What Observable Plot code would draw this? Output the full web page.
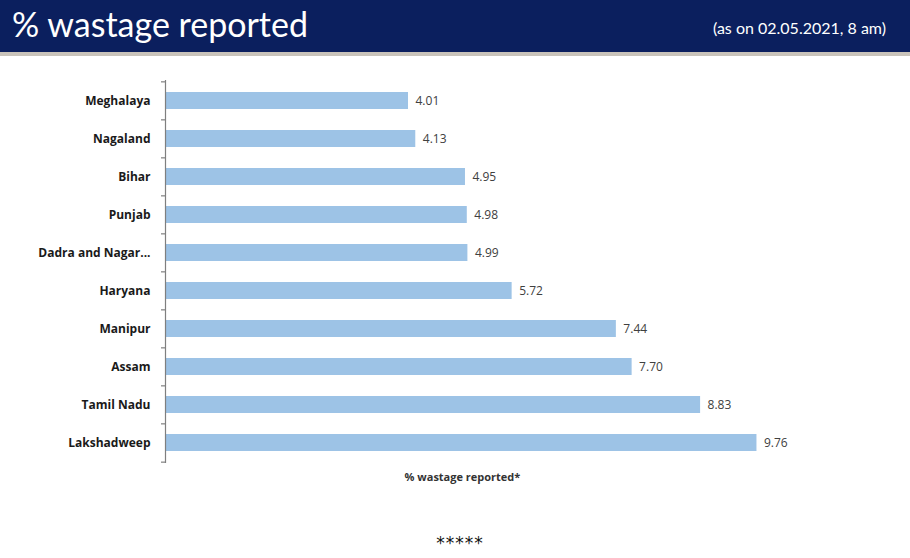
<!DOCTYPE html>
<html>
<head>
<meta charset="utf-8">
<script src="https://cdn.jsdelivr.net/npm/d3@7"></script>
<script src="https://cdn.jsdelivr.net/npm/@observablehq/plot@0.6"></script>
<style>
  body { margin: 0; background: #fff; width: 910px; font-family: Lato, "Open Sans", sans-serif; }
  #header { height: 52px; background: #0b1f5e; border-bottom: 4px solid #c9c3ba; position: relative; }
  #title { position: absolute; left: 12px; top: 3px; color: #fff; font-size: 34px; font-family: Lato, sans-serif; }
  #subtitle { position: absolute; right: 24px; top: 18px; color: #fff; font-size: 16px; font-family: Lato, sans-serif; }
  #caption { text-align: center; font-family: "DejaVu Sans", sans-serif; font-size: 17px; margin-top: 33px; padding-left: 10px; letter-spacing: 1px; color: #111; }
</style>
</head>
<body>
<div id="header"><div id="title">% wastage reported</div><div id="subtitle">(as on 02.05.2021, 8 am)</div></div>
<div id="chart"></div>
<div id="caption">*****</div>
<script>
const states = ["Meghalaya", "Nagaland", "Bihar", "Punjab", "Dadra and Nagar...", "Haryana", "Manipur", "Assam", "Tamil Nadu", "Lakshadweep"];
const wastage = [4.01, 4.13, 4.95, 4.98, 4.99, 5.72, 7.44, 7.70, 8.83, 9.76];
const xLabel = "% wastage reported*";

const data = states.map((s, i) => ({state: s, value: wastage[i]}));
const H = 444, mt = 24, mb = 37;
const step = (H - mt - mb) / states.length;

const chart = Plot.plot({
  width: 910,
  height: H,
  marginLeft: 165,
  marginRight: 139,
  marginTop: mt,
  marginBottom: mb,
  style: {fontFamily: "'Open Sans', sans-serif", background: "#fff"},
  x: {domain: [0, 10], axis: null},
  y: {domain: states, paddingInner: 0.55, paddingOuter: 0.275, label: null, tickSize: 0, tickPadding: 15},
  marks: [
    Plot.barX(data, {x: "value", y: "state", fill: "#9dc3e6"}),
    Plot.text(data, {x: "value", y: "state", text: d => d.value.toFixed(2), textAnchor: "start", dx: 7, fontSize: 12, fill: "#404040"}),
    Plot.text([xLabel], {x: 4.9, frameAnchor: "bottom", dy: 17, text: d => d, fontSize: 11, fontWeight: "bold", fill: "#333"}),
    Plot.ruleX([0], {stroke: "#7f7f7f", strokeWidth: 1.2}),
    Plot.ruleY(states, {y: d => d, x1: 0, x2: 0, insetLeft: -4, dy: -step / 2, stroke: "#7f7f7f", strokeWidth: 1.2}),
    Plot.ruleY(states.slice(-1), {y: d => d, x1: 0, x2: 0, insetLeft: -4, dy: step / 2, stroke: "#7f7f7f", strokeWidth: 1.2})
  ]
});
d3.select(chart).selectAll("g[aria-label='y-axis tick label']").attr("font-weight", "bold").attr("font-size", 12).attr("fill", "#1a1a1a");
document.getElementById("chart").appendChild(chart);
</script>
</body>
</html>
